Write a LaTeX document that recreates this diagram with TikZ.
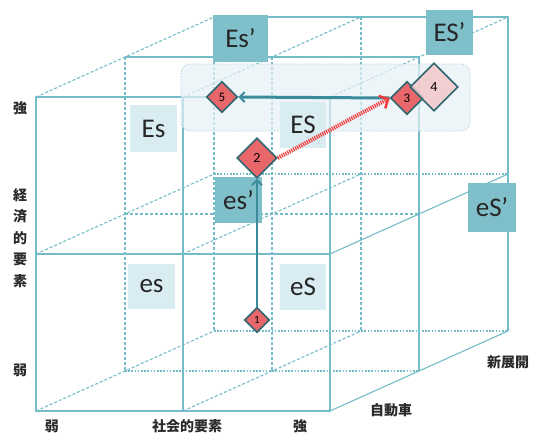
\documentclass[tikz,border=0pt]{standalone}
\usepackage{fontspec}
\setmainfont{Carlito}
\newfontfamily\jp{Noto Sans CJK JP}
\usetikzlibrary{shapes.geometric,arrows.meta}
\definecolor{gridc}{HTML}{74BCC8}
\definecolor{lightbox}{HTML}{D9ECF1}
\definecolor{darkbox}{HTML}{7FBFCA}
\definecolor{diamred}{HTML}{E8676A}
\definecolor{diampink}{HTML}{F5C5C8}
\definecolor{diamedge}{HTML}{2E6670}
\definecolor{arrteal}{HTML}{3A8B9B}
\definecolor{arrred}{HTML}{F03C3C}
\definecolor{panelc}{HTML}{E6F2F6}
\definecolor{paneledge}{HTML}{B5D5DD}
\definecolor{txtc}{HTML}{2A2A2A}
\tikzset{
  solidl/.style={gridc, line width=1.1pt},
  dashl/.style={gridc, line width=1.1pt, dash pattern=on 3pt off 2pt},
  dotl/.style={gridc, line width=1.3pt, dash pattern=on 1.6pt off 1.6pt},
  lbox/.style={fill=lightbox, inner sep=0pt, text=black!85, font=\fontsize{27}{27}\selectfont},
  dbox/.style={fill=darkbox, inner sep=0pt, text=black!85, font=\fontsize{27}{27}\selectfont},
  diam/.style={diamond, aspect=1, inner sep=0pt, draw=diamedge, line width=1.6pt, fill=diamred, text=black, font=\fontsize{13}{13}\selectfont},
  jplabel/.style={text=txtc, font=\jp\bfseries\fontsize{14}{21.5}\selectfont, inner sep=0pt, align=center},
  tealarrow/.style={arrteal, line width=2pt, -{Straight Barb[length=5pt,width=10pt,line width=2pt]}},
  redarrow/.style={arrred, line width=4pt, dash pattern=on 1.2pt off 1pt, -{Straight Barb[length=7pt,width=14pt,line width=2.5pt]}}
}
\begin{document}
\begin{tikzpicture}[x=1pt,y=-1pt]
\useasboundingbox (0,0) rectangle (536,437);
\fill[white] (0,0) rectangle (536,437);
% back face
\draw[solidl] (214,17) -- (508,17) -- (508,331);
\draw[dashl] (214,17) -- (214,331);
\draw[dotl] (214,331) -- (508,331);
\draw[dashl] (361,17) -- (361,331);
\draw[dotl] (214,174) -- (508,174);
% middle face
\draw[solidl] (125,57) -- (419,57) -- (419,371);
\draw[dashl] (125,57) -- (125,371);
\draw[dotl] (125,371) -- (419,371);
\draw[dashl] (272,57) -- (272,371);
\draw[dashl] (125,214) -- (419,214);
% depth lines
\draw[dashl] (36,97) -- (214,17);
\draw[dashl] (183,97) -- (361,17);
\draw[dashl] (330,97) -- (508,17);
\draw[dashl] (36,254) -- (214,174);
\draw[dashl] (183,254) -- (361,174);
\draw[solidl] (330,254) -- (508,174);
\draw[dashl] (36,411) -- (214,331);
\draw[dashl] (183,411) -- (361,331);
\draw[solidl] (330,411) -- (508,331);
% front face
\draw[solidl] (36,97) rectangle (330,411);
\draw[solidl] (183,97) -- (183,411);
\draw[solidl] (36,254) -- (330,254);
% panel
\draw[paneledge, fill=panelc, fill opacity=0.7, line width=0.8pt, dash pattern=on 1.5pt off 1.5pt, rounded corners=9pt] (181,64) rectangle (470,131);
% boxes
\node[lbox, minimum width=47pt, minimum height=47pt] (Es) at (153.5,128.5) {Es};
\node[lbox, minimum width=46pt, minimum height=46pt] (ES) at (303,125) {ES};
\node[lbox, minimum width=47pt, minimum height=45pt] (es) at (151.5,286.5) {es};
\node[lbox, minimum width=46pt, minimum height=46pt] (eS) at (303,287) {eS};
\node[dbox, minimum width=55pt, minimum height=47pt] (Esp) at (240.5,38.5) {Es’};
\node[dbox, minimum width=47pt, minimum height=45pt] (ESp) at (449.5,32.5) {ES’};
\node[dbox, minimum width=48pt, minimum height=49pt] (eSp) at (492,207.5) {eS’};
\node[dbox, minimum width=47pt, minimum height=46pt] (esp) at (238.5,200) {es’};
% diamonds
\node[diam, minimum size=25pt, font=\fontsize{11}{11}\selectfont] (d1) at (257,320) {1};
\node[diam, minimum size=40pt, font=\fontsize{14}{14}\selectfont] (d2) at (257,158) {2};
\node[diam, minimum size=31pt] (d5) at (222,97) {5};
\node[diam, minimum size=33pt] (d3) at (407,98) {3};
\node[diam, minimum size=48pt, fill=diampink, fill opacity=0.8, text opacity=1, font=\fontsize{14}{14}\selectfont] (d4) at (434,87) {4};
% arrows
\draw[tealarrow] (d1.north) -- (d2.south);
\draw[tealarrow, line width=3pt] (d3.west) -- (d5.east);
\draw[redarrow] (d2.east) -- (d3.west);
% axis labels
\node[jplabel] (strongy) at (20,108) {強};
\node[jplabel] (ecoax) at (20,238) {経\\済\\的\\要\\素};
\node[jplabel] (weaky) at (20,370) {弱};
\node[jplabel] (weakx) at (52,426) {弱};
\node[jplabel] (socax) at (187,426) {社会的要素};
\node[jplabel] (strongx) at (300,426) {強};
\node[jplabel] (car) at (391,410) {自動車};
\node[jplabel] (newdev) at (508,362) {新展開};
\end{tikzpicture}
\end{document}
